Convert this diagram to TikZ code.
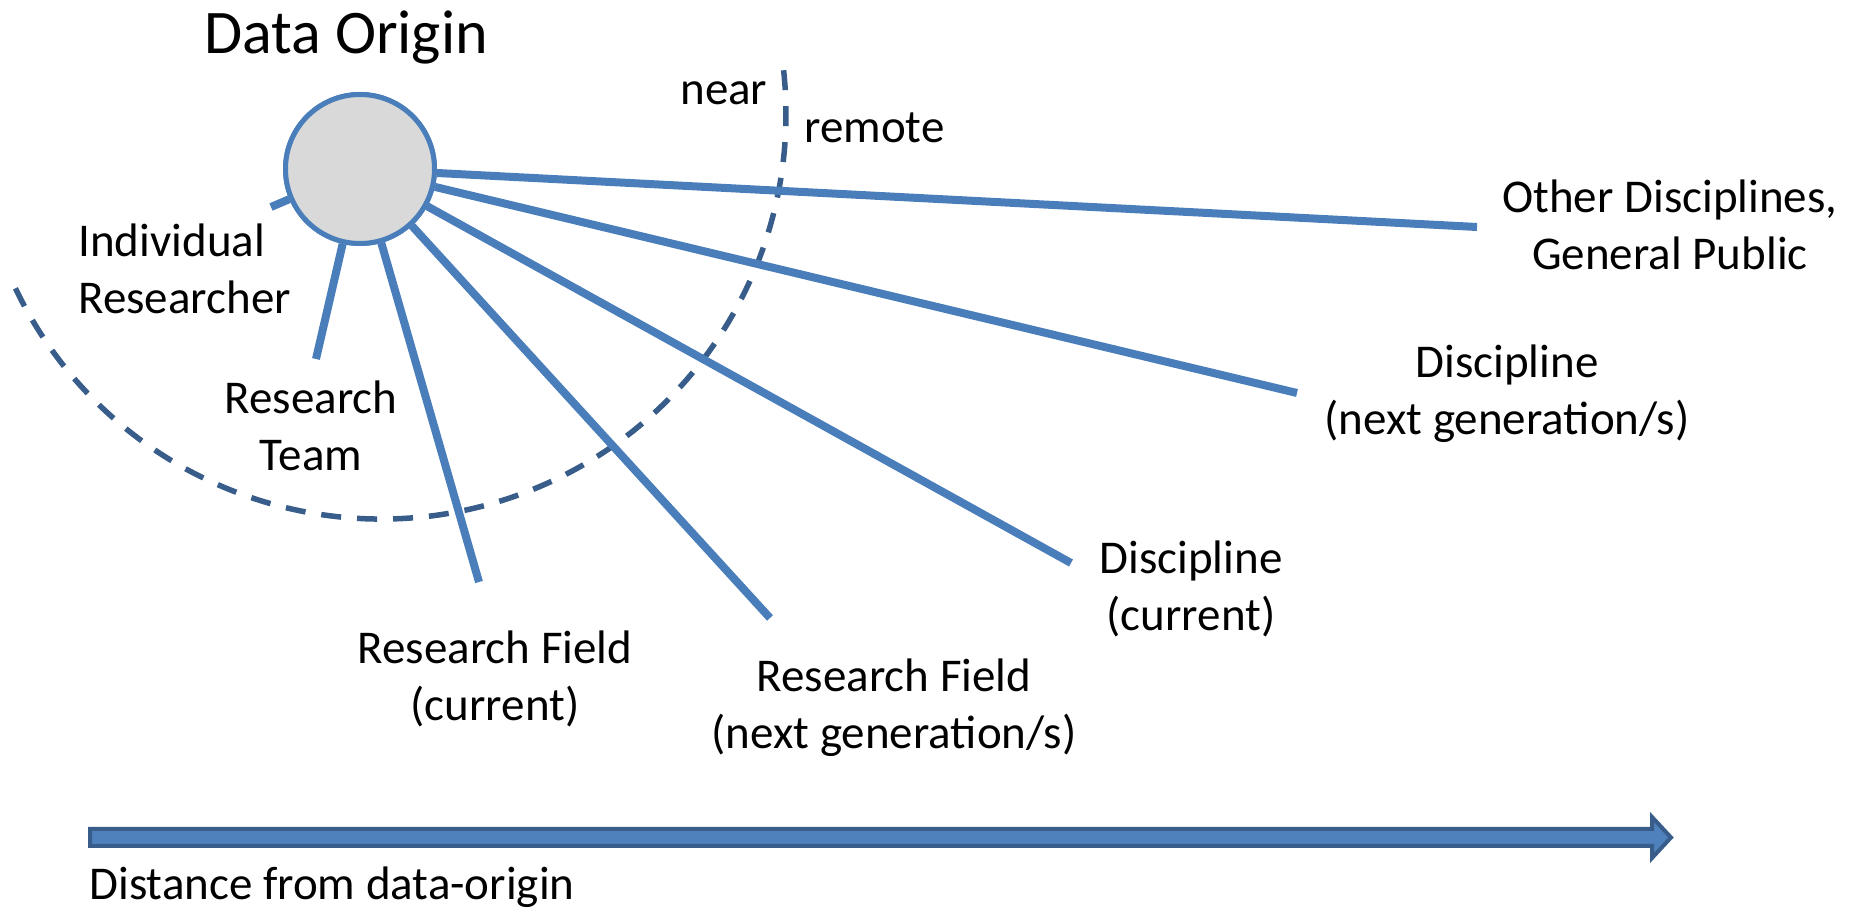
\documentclass[tikz,border=0pt]{standalone}
\usepackage{fontspec}
\setmainfont{Carlito}
\definecolor{spokeblue}{HTML}{4A7EBB}
\definecolor{darkblue}{HTML}{385D8A}
\definecolor{fillblue}{HTML}{4F81BD}
\definecolor{origingray}{HTML}{D9D9D9}
\tikzset{
  spoke/.style={draw=spokeblue, line width=4pt},
  boundary/.style={draw=darkblue, line width=2.75pt, dash pattern=on 10pt off 8pt},
  lbl/.style={inner sep=0pt, font=\fontsize{23.5pt}{28.5pt}\selectfont},
  clbl/.style={lbl, anchor=base, align=center},
  llbl/.style={lbl, anchor=base west, align=left},
  originnode/.style={circle, draw=spokeblue, line width=2.5pt, fill=origingray, minimum size=74.5pt, inner sep=0pt},
  distarrow/.style={draw=darkblue, fill=fillblue, line width=2pt, line join=miter}
}
\begin{document}
\begin{tikzpicture}[x=0.5pt, y=-0.5pt]
\useasboundingbox (0,0) rectangle (1854,913);

% dashed near/remote boundary
\coordinate (ac) at (381,114);
\draw[boundary] (ac) ++(205.5:202.5pt) arc[start angle=205.5, end angle=366.4, radius=202.5pt];

% spoke end points
\coordinate (e1) at (271,207);
\coordinate (e2) at (316,359);
\coordinate (e3) at (479,582);
\coordinate (e4) at (770,618);
\coordinate (e5) at (1071,563);
\coordinate (e6) at (1297,393);
\coordinate (e7) at (1477,227);

% origin
\node[originnode] (origin) at (360,169) {};
\foreach \e in {e1,e2,e3,e4,e5,e6,e7} {
  \draw[spoke] (origin) -- (\e);
}
\node[originnode] at (origin) {};
\node[lbl, anchor=base, font=\fontsize{31pt}{37pt}\selectfont] (title) at (346,54) {Data Origin};

% labels (multi-line nodes: base = baseline of last line)
\node[llbl] (near) at (680,105) {near};
\node[llbl] (remote) at (804,143) {remote};
\node[llbl] (indiv) at (78,314) {Individual\\Researcher};
\node[clbl] (team) at (311,471) {Research\\Team};
\node[clbl] (fieldcur) at (495,721) {Research Field\\(current)};
\node[clbl] (fieldnext) at (894,749) {Research Field\\(next generation/s)};
\node[clbl] (disccur) at (1191,631) {Discipline\\(current)};
\node[clbl] (discnext) at (1507,435) {Discipline\\(next generation/s)};
\node[clbl] (public) at (1670,270) {Other Disciplines,\\General Public};

% distance arrow
\draw[distarrow] (90,829) -- (1652,829) -- (1652,817) -- (1671,837.5) -- (1652,858) -- (1652,846) -- (90,846) -- cycle;
\node[llbl] (distance) at (89,900) {Distance from data-origin};
\end{tikzpicture}
\end{document}
